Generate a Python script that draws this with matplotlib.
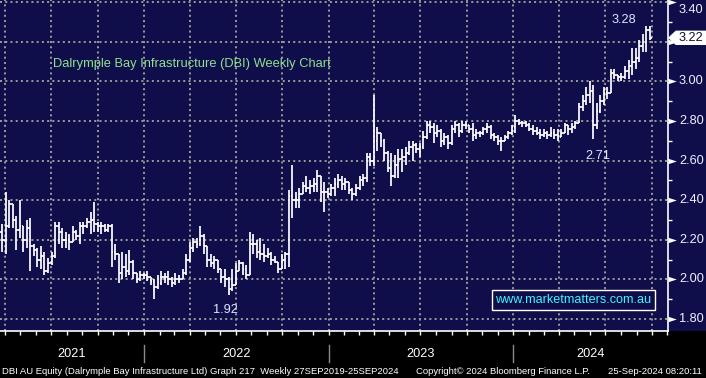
import matplotlib
matplotlib.use('Agg')
import matplotlib.pyplot as plt
import matplotlib.dates as mdates
import matplotlib.transforms as mtransforms
from matplotlib.patches import Rectangle, Polygon
from matplotlib.lines import Line2D
import pandas as pd

# ---------------- data (weekly OHLC) ----------------
highs = [2.28, 2.44, 2.40, 2.38, 2.32, 2.40, 2.27, 2.30, 2.31, 2.18,
         2.16, 2.17, 2.14, 2.11, 2.14, 2.29, 2.29, 2.26, 2.24, 2.23,
         2.27, 2.25, 2.29, 2.29, 2.31, 2.34, 2.39, 2.29, 2.29, 2.28,
         2.28, 2.28, 2.18, 2.13, 2.14, 2.13, 2.15, 2.10, 2.03, 2.04,
         2.03, 2.04, 2.01, 2.00, 2.02, 2.04, 2.03, 2.04, 2.01, 2.03,
         2.02, 2.05, 2.13, 2.19, 2.21, 2.21, 2.27, 2.23, 2.17, 2.13,
         2.12, 2.10, 2.05, 2.05, 2.01, 2.05, 2.08, 2.10, 2.09, 2.07,
         2.24, 2.23, 2.20, 2.21, 2.18, 2.16, 2.14, 2.12, 2.09, 2.13,
         2.14, 2.45, 2.58, 2.44, 2.46, 2.49, 2.52, 2.50, 2.51, 2.55,
         2.52, 2.49, 2.46, 2.48, 2.51, 2.53, 2.52, 2.51, 2.49, 2.46,
         2.48, 2.52, 2.53, 2.64, 2.64, 2.93, 2.77, 2.74, 2.71, 2.65,
         2.64, 2.63, 2.66, 2.66, 2.67, 2.70, 2.70, 2.69, 2.69, 2.75,
         2.80, 2.80, 2.79, 2.78, 2.76, 2.74, 2.73, 2.78, 2.80, 2.79,
         2.80, 2.80, 2.78, 2.79, 2.76, 2.75, 2.77, 2.79, 2.78, 2.74,
         2.73, 2.72, 2.73, 2.75, 2.78, 2.83, 2.81, 2.80, 2.80, 2.79,
         2.78, 2.77, 2.76, 2.76, 2.75, 2.77, 2.76, 2.76, 2.76, 2.79,
         2.78, 2.79, 2.80, 2.89, 2.93, 2.97, 3.00, 2.98, 2.89, 2.93,
         2.97, 2.97, 3.06, 3.06, 3.03, 3.04, 3.08, 3.11, 3.17, 3.17,
         3.21, 3.24, 3.28, 3.28]

lows = [2.14, 2.13, 2.26, 2.26, 2.15, 2.21, 2.14, 2.16, 2.04, 2.12,
        2.06, 2.05, 2.02, 2.03, 2.07, 2.11, 2.18, 2.16, 2.16, 2.15,
        2.19, 2.20, 2.18, 2.23, 2.26, 2.23, 2.24, 2.24, 2.23, 2.24,
        2.24, 2.06, 2.10, 1.98, 2.00, 2.01, 2.02, 2.00, 1.98, 1.99,
        2.00, 1.99, 1.97, 1.90, 1.95, 1.97, 1.98, 1.97, 1.96, 1.97,
        1.98, 2.00, 2.02, 2.09, 2.14, 2.16, 2.17, 2.13, 2.06, 2.06,
        2.05, 2.03, 1.98, 1.96, 1.92, 1.94, 1.97, 2.04, 2.02, 2.00,
        2.02, 2.13, 2.11, 2.10, 2.09, 2.11, 2.07, 2.08, 2.03, 2.05,
        2.05, 2.06, 2.31, 2.36, 2.36, 2.43, 2.44, 2.43, 2.44, 2.44,
        2.39, 2.34, 2.41, 2.42, 2.42, 2.46, 2.45, 2.45, 2.43, 2.40,
        2.42, 2.45, 2.47, 2.49, 2.57, 2.57, 2.65, 2.67, 2.60, 2.54,
        2.47, 2.51, 2.51, 2.54, 2.58, 2.63, 2.60, 2.64, 2.62, 2.66,
        2.71, 2.74, 2.69, 2.72, 2.67, 2.68, 2.66, 2.68, 2.74, 2.72,
        2.74, 2.76, 2.74, 2.70, 2.71, 2.72, 2.73, 2.74, 2.71, 2.70,
        2.68, 2.65, 2.70, 2.71, 2.73, 2.74, 2.78, 2.77, 2.77, 2.75,
        2.73, 2.73, 2.71, 2.72, 2.71, 2.72, 2.71, 2.70, 2.72, 2.74,
        2.73, 2.74, 2.76, 2.79, 2.85, 2.88, 2.89, 2.71, 2.76, 2.84,
        2.88, 2.91, 2.94, 3.01, 3.00, 3.00, 3.01, 3.01, 3.03, 3.06,
        3.10, 3.15, 3.15, 3.21]

opens = [2.24, 2.20, 2.27, 2.38, 2.30, 2.25, 2.27, 2.20, 2.26, 2.17,
         2.15, 2.10, 2.12, 2.04, 2.08, 2.12, 2.27, 2.24, 2.20, 2.20,
         2.19, 2.24, 2.22, 2.27, 2.27, 2.29, 2.30, 2.28, 2.27, 2.27,
         2.25, 2.27, 2.14, 2.13, 2.03, 2.06, 2.04, 2.09, 2.03, 2.00,
         2.02, 2.02, 2.01, 1.99, 1.96, 1.98, 2.01, 2.01, 2.00, 1.98,
         2.00, 2.00, 2.03, 2.10, 2.16, 2.19, 2.18, 2.22, 2.17, 2.10,
         2.08, 2.10, 2.05, 2.01, 2.00, 1.95, 1.97, 2.04, 2.08, 2.05,
         2.02, 2.18, 2.18, 2.14, 2.13, 2.12, 2.13, 2.10, 2.09, 2.05,
         2.10, 2.13, 2.42, 2.40, 2.40, 2.43, 2.47, 2.46, 2.47, 2.48,
         2.52, 2.44, 2.44, 2.43, 2.46, 2.48, 2.50, 2.48, 2.49, 2.45,
         2.43, 2.46, 2.50, 2.51, 2.62, 2.60, 2.70, 2.74, 2.70, 2.64,
         2.56, 2.52, 2.58, 2.61, 2.62, 2.64, 2.67, 2.68, 2.66, 2.67,
         2.72, 2.78, 2.77, 2.74, 2.75, 2.70, 2.72, 2.69, 2.76, 2.78,
         2.75, 2.78, 2.78, 2.76, 2.73, 2.74, 2.74, 2.76, 2.77, 2.73,
         2.72, 2.70, 2.70, 2.72, 2.74, 2.77, 2.80, 2.79, 2.79, 2.78,
         2.76, 2.75, 2.74, 2.73, 2.74, 2.73, 2.74, 2.73, 2.72, 2.74,
         2.78, 2.76, 2.77, 2.79, 2.87, 2.90, 2.93, 2.95, 2.78, 2.85,
         2.90, 2.94, 2.94, 3.04, 3.03, 3.02, 3.02, 3.05, 3.08, 3.10,
         3.12, 3.18, 3.20, 3.26]

closes = [2.20, 2.27, 2.38, 2.30, 2.25, 2.27, 2.20, 2.26, 2.17, 2.15,
          2.10, 2.12, 2.04, 2.08, 2.12, 2.27, 2.24, 2.20, 2.20, 2.19,
          2.24, 2.22, 2.27, 2.27, 2.29, 2.30, 2.28, 2.27, 2.27, 2.25,
          2.27, 2.14, 2.13, 2.03, 2.06, 2.04, 2.09, 2.03, 2.00, 2.02,
          2.02, 2.01, 1.99, 1.96, 1.98, 2.01, 2.01, 2.00, 1.98, 2.00,
          2.00, 2.03, 2.10, 2.16, 2.19, 2.18, 2.22, 2.17, 2.10, 2.08,
          2.10, 2.05, 2.01, 2.00, 1.95, 1.97, 2.04, 2.08, 2.05, 2.02,
          2.18, 2.18, 2.14, 2.13, 2.12, 2.13, 2.10, 2.09, 2.05, 2.10,
          2.13, 2.42, 2.40, 2.40, 2.43, 2.47, 2.46, 2.47, 2.48, 2.52,
          2.44, 2.44, 2.43, 2.46, 2.48, 2.50, 2.48, 2.49, 2.45, 2.43,
          2.46, 2.50, 2.51, 2.62, 2.60, 2.70, 2.74, 2.70, 2.64, 2.56,
          2.52, 2.58, 2.61, 2.62, 2.64, 2.67, 2.68, 2.66, 2.67, 2.72,
          2.78, 2.77, 2.74, 2.75, 2.70, 2.72, 2.69, 2.76, 2.78, 2.75,
          2.78, 2.78, 2.76, 2.73, 2.74, 2.74, 2.76, 2.77, 2.73, 2.72,
          2.70, 2.70, 2.72, 2.74, 2.77, 2.80, 2.79, 2.79, 2.78, 2.76,
          2.75, 2.74, 2.73, 2.74, 2.73, 2.74, 2.73, 2.72, 2.74, 2.78,
          2.76, 2.77, 2.79, 2.87, 2.90, 2.93, 2.95, 2.78, 2.85, 2.90,
          2.94, 2.94, 3.04, 3.03, 3.02, 3.02, 3.05, 3.08, 3.10, 3.12,
          3.18, 3.20, 3.26, 3.22]

last_date = '2024-09-27'
y_ticks = [1.80, 2.00, 2.20, 2.40, 2.60, 2.80, 3.00, 3.20, 3.40]
y_tick_labels = ['1.80', '2.00', '2.20', '2.40', '2.60', '2.80', '3.00', '', '3.40']
year_labels = ['2021', '2022', '2023', '2024']

title_text = 'Dalrymple Bay Infrastructure (DBI) Weekly Chart'
website = 'www.marketmatters.com.au'
footer_left = 'DBI AU Equity (Dalrymple Bay Infrastructure Ltd) Graph 217  Weekly 27SEP2019-25SEP2024'
footer_mid = 'Copyright\u00a9 2024 Bloomberg Finance L.P.'
footer_right = '25-Sep-2024 08:20:11'

# ---------------- figure ----------------
W, H = 706, 378
NAVY = '#0f0d4a'
GRID = '#959595'
TXT = '#eef2ff'
FONT = 'Liberation Sans'

n = min(len(highs), len(lows), len(opens), len(closes))
dates = pd.date_range(end=last_date, periods=n, freq='W-FRI')
x = mdates.date2num(dates)

fig = plt.figure(figsize=(W / 100, H / 100), dpi=100)
fig.patch.set_facecolor('black')
band = 47 / H
fig.add_artist(Rectangle((0, band), 1, 1 - band, transform=fig.transFigure,
                         facecolor=NAVY, edgecolor='none', zorder=0))
ax = fig.add_axes([0, band, 668 / W, 1 - band])
ax.set_facecolor(NAVY)
ax.set_xlim(x[0] - 4, x[-1] + 36)
ax.set_ylim(1.739, 3.411)

# grid
gls = (0, (1.0, 1.6))
for v in y_ticks:
    ax.axhline(v, color=GRID, lw=1.45, ls=gls, zorder=1)
for q in pd.date_range('2021-04-01', '2024-10-01', freq='QS'):
    ax.axvline(mdates.date2num(q), color=GRID, lw=1.45, ls=gls, zorder=1)

# OHLC bars
ax.vlines(x, lows[:n], highs[:n], color='white', lw=1.25, zorder=3)
ax.hlines(opens[:n], x - 3.4, x, color='white', lw=1.25, zorder=3)
ax.hlines(closes[:n], x, x + 3.4, color='white', lw=1.25, zorder=3)

# spines & ticks
for s in ['top', 'left']:
    ax.spines[s].set_visible(False)
ax.spines['right'].set_color('white')
ax.spines['bottom'].set_color('white')
ax.spines['right'].set_linewidth(1.2)
ax.spines['bottom'].set_linewidth(1.2)
ax.xaxis.set_major_locator(mdates.YearLocator())
ax.xaxis.set_minor_locator(mdates.MonthLocator())
ax.tick_params(axis='x', which='both', direction='out', colors='white',
               length=3, width=1, labelbottom=False)
ax.yaxis.tick_right()
ax.set_yticks(y_ticks)
ax.set_yticks([v + 0.1 for v in y_ticks[:-1]], minor=True)
ax.tick_params(axis='y', which='major', length=0, labelright=False)
ax.tick_params(axis='y', which='minor', length=3, width=1, colors='white')

# y-axis markers and labels
trans = mtransforms.blended_transform_factory(ax.transAxes, ax.transData)
ax.plot([1.0] * len(y_ticks), y_ticks, ls='none', color='white',
        marker=[(0, -2.6), (8, 0), (0, 2.6)], ms=12, mew=0,
        transform=trans, clip_on=False, zorder=5)
for v, lab in zip(y_ticks, y_tick_labels):
    if not lab:
        continue
    tr = trans
    if v == max(y_ticks):
        tr = mtransforms.offset_copy(trans, fig=fig, y=-8, units='dots')
    ax.text(1.0165, v, lab, transform=tr, ha='left', va='center',
            fontsize=9.2, color=TXT, family=FONT, clip_on=False)

# title
ax.text(53 / 668, 1 - 64 / 331, title_text, transform=ax.transAxes,
        ha='left', va='center', fontsize=9.25, color='#8fe08f', family=FONT)

# annotations of highs / lows
ax.text(mdates.date2num(pd.Timestamp('2024-08-06')), 3.31, '3.28', ha='center',
        va='center', fontsize=9.2, color='#dfe8ff', family=FONT)
ax.text(mdates.date2num(pd.Timestamp('2024-06-16')), 2.622, '2.71', ha='center',
        va='center', fontsize=9.2, color='#dfe8ff', family=FONT)
ax.text(mdates.date2num(pd.Timestamp('2022-06-10')), 1.845, '1.92', ha='center',
        va='center', fontsize=9.2, color='#dfe8ff', family=FONT)

# website box
ax.text(0.8585, 1 - 300 / 331, website, transform=ax.transAxes, ha='center',
        va='center', fontsize=9.1, color='#3ff3ff', family=FONT, zorder=6,
        bbox=dict(boxstyle='square,pad=0.3', facecolor=NAVY,
                  edgecolor='white', lw=1))

fig.canvas.draw()
ident = mtransforms.IdentityTransform()

# last price tag
xa = ax.transAxes.transform((1, 0))[0]
yd = ax.transData.transform((x[-1], closes[n - 1]))[1]
h2 = 6.5
poly = Polygon([(xa + 1, yd), (xa + 8, yd + h2), (W, yd + h2), (W, yd - h2),
                (xa + 8, yd - h2)], closed=True, facecolor='white',
               edgecolor='white', transform=ident, zorder=10)
fig.add_artist(poly)
fig.text(xa + 23, yd, f'{closes[n - 1]:.2f}', transform=ident, ha='center',
         va='center', fontsize=9.2, color='#101030', family=FONT, zorder=11)

# bottom band: year separators and labels
x0, x1 = ax.get_xlim()
years = [2021, 2022, 2023, 2024]
for yr, lab in zip(years, year_labels):
    a = max(mdates.date2num(pd.Timestamp(f'{yr}-01-01')), x0)
    b = min(mdates.date2num(pd.Timestamp(f'{yr + 1}-01-01')), x1)
    xc = ax.transData.transform(((a + b) / 2, 2.0))[0]
    fig.text(xc, H - 354, lab, transform=ident, ha='center', va='center',
             fontsize=9.2, color='white', family=FONT)
    if yr > 2021:
        xs = ax.transData.transform((mdates.date2num(pd.Timestamp(f'{yr}-01-01')), 2.0))[0]
        fig.add_artist(Line2D([xs, xs], [H - 345, H - 362], color='#8a8a8a',
                              lw=1, transform=ident))

# footer
fig.text(2, H - 371, footer_left, transform=ident, ha='left', va='center',
         fontsize=6.8, color='white', family=FONT)
fig.text(416, H - 371, footer_mid, transform=ident, ha='left', va='center',
         fontsize=6.8, color='white', family=FONT)
fig.text(608, H - 371, footer_right, transform=ident, ha='left', va='center',
         fontsize=6.8, color='white', family=FONT)

fig.savefig('out.png', dpi=100, facecolor=fig.get_facecolor())
